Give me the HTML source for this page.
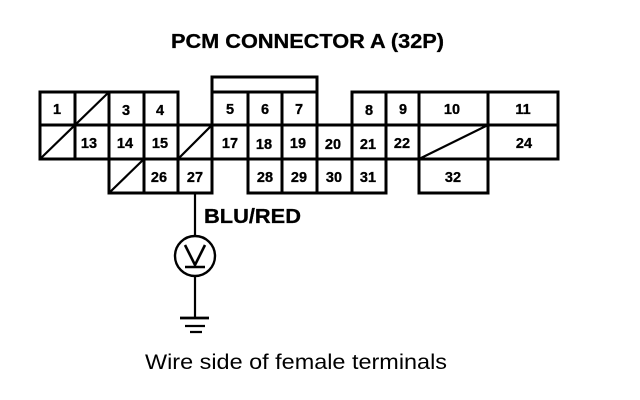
<!DOCTYPE html>
<html>
<head>
<meta charset="utf-8">
<style>
html,body{margin:0;padding:0;background:#fff;}
svg{display:block;}
text{font-family:"Liberation Sans",Arial,sans-serif;fill:#000;}
.n{font-size:14.5px;font-weight:bold;text-anchor:middle;stroke:#000;stroke-width:.3px;}
</style>
</head>
<body>
<svg width="640" height="400" viewBox="0 0 640 400" xmlns="http://www.w3.org/2000/svg">
<rect width="640" height="400" fill="#fff"/>
<g stroke="#000" stroke-width="3" fill="none" stroke-linecap="square">
<path d="M40 92H178M212 92H317M352 92H558"/>
<path d="M40 125H558M40 159H558"/>
<path d="M109 193H212M248 193H386M419 193H488"/>
<path d="M212 77H317"/>
<path d="M40 92V159M75 92V159M109 92V193M144 92V193M178 92V193M212 77V193M248 92V193M282 92V193M317 77V193M352 92V193M386 92V193M419 92V193M488 92V193M558 92V159"/>
</g>
<g stroke="#000" stroke-width="2.2" fill="none">
<path d="M40 159L109 92M178 159L212 125M109 193L144 159M419 159L488 125"/>
<path d="M195 193V237M195 276V318"/>
<circle cx="195" cy="256" r="20" stroke-width="2.4"/>
<path d="M185 245L195 265L205 245" stroke-width="2.6"/>
<path d="M185 267H205" stroke-width="2.6"/>
<path d="M180 318H209" stroke-width="2.8"/>
<path d="M185 326H205M190 332H202"/>
</g>
<g>
<text class="n" x="57" y="114">1</text>
<text class="n" x="126" y="115">3</text>
<text class="n" x="160" y="115">4</text>
<text class="n" x="230" y="114">5</text>
<text class="n" x="265" y="114">6</text>
<text class="n" x="299" y="114">7</text>
<text class="n" x="369" y="115">8</text>
<text class="n" x="403" y="114">9</text>
<text class="n" x="452" y="114">10</text>
<text class="n" x="523" y="114">11</text>
<text class="n" x="89" y="148">13</text>
<text class="n" x="125" y="148">14</text>
<text class="n" x="160" y="148">15</text>
<text class="n" x="230" y="148">17</text>
<text class="n" x="264" y="149">18</text>
<text class="n" x="298" y="148">19</text>
<text class="n" x="333" y="149">20</text>
<text class="n" x="368" y="149">21</text>
<text class="n" x="402" y="148">22</text>
<text class="n" x="524" y="148">24</text>
<text class="n" x="159" y="182">26</text>
<text class="n" x="195" y="182">27</text>
<text class="n" x="265" y="182">28</text>
<text class="n" x="299" y="182">29</text>
<text class="n" x="334" y="182">30</text>
<text class="n" x="368" y="182">31</text>
<text class="n" x="453" y="182">32</text>
</g>
<text x="171" y="48" font-size="20.5" font-weight="bold" stroke="#000" stroke-width=".3" textLength="273" lengthAdjust="spacingAndGlyphs">PCM CONNECTOR A (32P)</text>
<text x="204" y="223" font-size="20" font-weight="bold" stroke="#000" stroke-width=".3" textLength="97" lengthAdjust="spacingAndGlyphs">BLU/RED</text>
<text x="145" y="369" font-size="21" textLength="302" lengthAdjust="spacingAndGlyphs">Wire side of female terminals</text>
</svg>
</body>
</html>
